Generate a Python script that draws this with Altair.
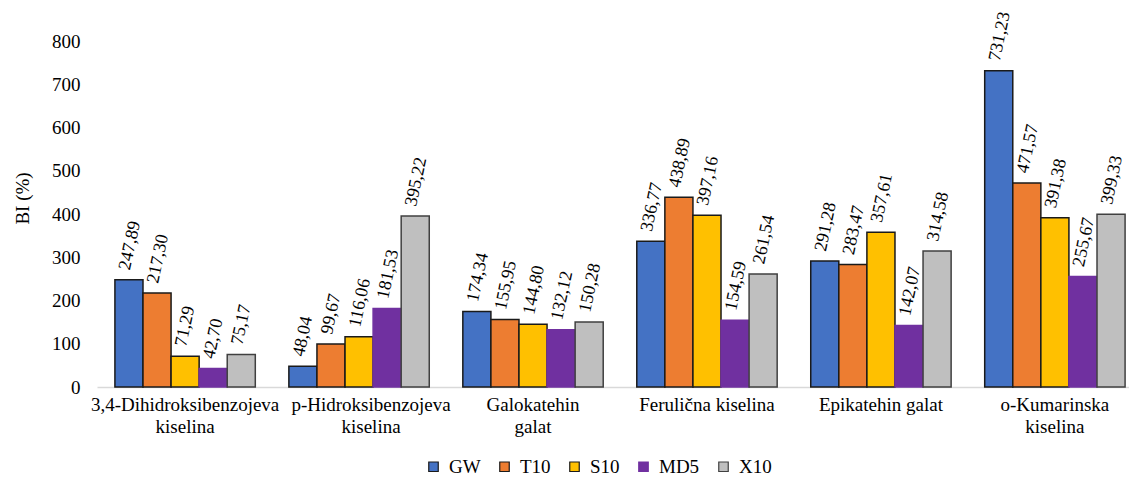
import altair as alt
import pandas as pd

categories = [
    "3,4-Dihidroksibenzojeva|kiselina",
    "p-Hidroksibenzojeva|kiselina",
    "Galokatehin|galat",
    "Ferulična kiselina",
    "Epikatehin galat",
    "o-Kumarinska|kiselina",
]
series = ["GW", "T10", "S10", "MD5", "X10"]

gw = [247.89, 48.04, 174.34, 336.77, 291.28, 731.23]
t10 = [217.30, 99.67, 155.95, 438.89, 283.47, 471.57]
s10 = [71.29, 116.06, 144.80, 397.16, 357.61, 391.38]
md5 = [42.70, 181.53, 132.12, 154.59, 142.07, 255.67]
x10 = [75.17, 395.22, 150.28, 261.54, 314.58, 399.33]

fill_colors = ["#4472C4", "#ED7D31", "#FFC000", "#7030A0", "#BFBFBF"]
stroke_colors = ["#1A1A1A", "#1A1A1A", "#1A1A1A", "#7030A0", "#404040"]
y_ticks = [0, 100, 200, 300, 400, 500, 600, 700, 800]

rows = []
for s, vals in zip(series, [gw, t10, s10, md5, x10]):
    for c, v in zip(categories, vals):
        rows.append({"cat": c, "series": s, "value": v,
                     "label": f"{v:.2f}".replace(".", ",")})
df = pd.DataFrame(rows)

FONT = "Liberation Serif"

base = alt.Chart(df).encode(
    x=alt.X(
        "cat:N",
        sort=categories,
        scale=alt.Scale(paddingInner=0.193, paddingOuter=0.103, range=[0, 1046]),
        axis=alt.Axis(
            title=None,
            labelExpr="split(datum.label, '|')",
            labelAngle=0,
            labelFont=FONT,
            labelFontSize=19,
            labelColor="black",
            labelLineHeight=22,
            labelPadding=8,
            labelLimit=400,
            labelOverlap=False,
            labelOffset={
                "condition": {"test": "datum.value === 'p-Hidroksibenzojeva|kiselina'",
                              "value": 12},
                "value": 0,
            },
            ticks=False,
            domainColor="#D9D9D9",
            domainWidth=1.5,
        ),
    ),
    xOffset=alt.XOffset("series:N", sort=series,
                        scale=alt.Scale(paddingInner=0, paddingOuter=0)),
    y=alt.Y(
        "value:Q",
        scale=alt.Scale(domain=[0, 800], nice=False),
        axis=alt.Axis(
            title="BI (%)",
            values=y_ticks,
            grid=False,
            domain=False,
            ticks=False,
            labelFont=FONT,
            labelFontSize=19,
            labelColor="black",
            labelPadding=17,
            titleFont=FONT,
            titleFontSize=19,
            titleFontWeight="normal",
            titleColor="black",
            titleX=-69,
            titleY=157,
            titleBaseline="alphabetic",
        ),
    ),
)

bars = base.mark_bar(strokeWidth=1.5).encode(
    fill=alt.Fill(
        "series:N",
        sort=series,
        scale=alt.Scale(domain=series, range=fill_colors),
        legend=alt.Legend(
            title=None,
            orient="none",
            legendX=327,
            legendY=416,
            direction="horizontal",
            symbolType="square",
            symbolSize=90,
            symbolStrokeColor="black",
            symbolStrokeWidth=1.2,
            labelFont=FONT,
            labelFontSize=19,
            labelColor="black",
            labelOffset=6,
            columnPadding=14,
            padding=0,
        ),
    ),
    stroke=alt.Stroke(
        "series:N",
        scale=alt.Scale(domain=series, range=stroke_colors),
        legend=None,
    ),
)

texts = base.mark_text(
    angle=282, align="left", baseline="middle", dx=9, dy=-6,
    font=FONT, fontSize=18, color="black",
).encode(text="label:N")

chart = alt.layer(bars, texts).properties(
    width=1032,
    height=346,
    autosize=alt.AutoSizeParams(type="none"),
    padding={"left": 89, "top": 33, "right": 0, "bottom": 89},
).configure_view(stroke=None)

chart.save("out.html", embed_options={"renderer": "svg", "actions": False})
